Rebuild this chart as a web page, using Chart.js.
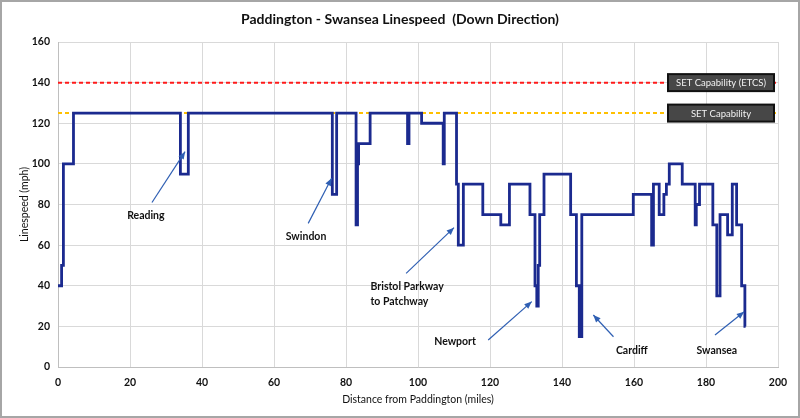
<!DOCTYPE html>
<html>
<head>
<meta charset="utf-8">
<script src="https://cdn.jsdelivr.net/npm/chart.js@4/dist/chart.umd.min.js"></script>
<style>
  html, body { margin: 0; padding: 0; background: #fff; }
  #wrap { width: 800px; height: 418px; position: relative; }
</style>
</head>
<body>
<div id="wrap"><canvas id="chart"></canvas></div>
<script>
// start of each section (miles) and its linespeed (mph)
const miles  = [0, 1, 1.5, 4.3, 34, 36.2, 76.2, 77.4, 82.8, 83.2, 83.5, 86.7, 97.1, 97.5, 101, 107, 107.3,
                110.7, 111.2, 112.6, 118, 123, 125.4, 131.1, 132.5, 133, 133.4, 133.8, 135, 142.4, 144, 144.8,
                145.5, 159.8, 164.9, 165.4, 167, 168.3, 169, 169.8, 173.4, 177, 177.3, 178.2, 181.9, 183,
                183.9, 186, 187.3, 188.5, 189.9, 190.8, 191];
const speeds = [40, 50, 100, 125, 95, 125, 85, 125, 70, 100, 110, 125, 110, 125, 120, 100, 125,
                90, 60, 90, 75, 70, 90, 75, 40, 30, 50, 75, 95, 75, 40, 15,
                75, 85, 60, 90, 75, 85, 90, 100, 90, 70, 80, 90, 70, 35,
                75, 65, 90, 70, 40, 20, 20];

const setEtcs = 140;   // SET Capability (ETCS)
const setCap = 125;    // SET Capability
const xTicks = [0, 20, 40, 60, 80, 100, 120, 140, 160, 180, 200];
const yTicks = [0, 20, 40, 60, 80, 100, 120, 140, 160];

// callouts: text, text position, arrow from -> to (miles, mph)
const callouts = [
  { text: ['Reading'], at: [24.4, 74.5], from: [26.1, 81], to: [35.3, 106] },
  { text: ['Swindon'], at: [68.9, 64.3], from: [69.5, 70.7], to: [76, 92.9] },
  { text: ['Bristol Parkway', 'to Patchway'], at: [86.8, 39.5], align: 'left', from: [96.7, 46.1], to: [110, 68.6] },
  { text: ['Newport'], at: [110.3, 12.3], from: [119.5, 13.3], to: [131.6, 32.2] },
  { text: ['Cardiff'], at: [159.4, 8.3], from: [154.3, 14.9], to: [148.7, 25.6] },
  { text: ['Swansea'], at: [183, 8.3], from: [182.5, 15.8], to: [190.6, 27.2] }
];

const FONT = 'Lato, "Open Sans", sans-serif';
const navy = '#1b2a8f';

const decor = {
  id: 'decor',
  beforeDraw(chart) {
    const c = chart.ctx;
    c.save();
    c.fillStyle = '#fff';
    c.fillRect(0, 0, chart.width, chart.height);
    c.restore();
  },
  afterDatasetsDraw(chart) {
    const c = chart.ctx, xs = chart.scales.x, ys = chart.scales.y;
    c.save();
    // capability labels
    [[setEtcs, 'SET Capability (ETCS)'], [setCap, 'SET Capability']].forEach(([v, t]) => {
      const y = ys.getPixelForValue(v);
      const x0 = 668, x1 = 774;
      c.fillStyle = '#474747';
      c.fillRect(x0, y - 8.5, x1 - x0, 17);
      c.lineWidth = 2;
      c.strokeStyle = '#111';
      c.strokeRect(x0, y - 8.5, x1 - x0, 17);
      c.fillStyle = '#f2f2f2';
      c.font = '9.5px ' + FONT;
      c.textAlign = 'center';
      c.textBaseline = 'middle';
      c.fillText(t, (x0 + x1) / 2, y + 0.5);
    });
    // callouts
    callouts.forEach(cl => {
      const fx = xs.getPixelForValue(cl.from[0]), fy = ys.getPixelForValue(cl.from[1]);
      const tx = xs.getPixelForValue(cl.to[0]), ty = ys.getPixelForValue(cl.to[1]);
      c.strokeStyle = '#2f5fb3';
      c.fillStyle = '#2f5fb3';
      c.lineWidth = 1.2;
      c.beginPath(); c.moveTo(fx, fy); c.lineTo(tx, ty); c.stroke();
      const a = Math.atan2(ty - fy, tx - fx);
      c.beginPath();
      c.moveTo(tx, ty);
      c.lineTo(tx - 8 * Math.cos(a - 0.4), ty - 8 * Math.sin(a - 0.4));
      c.lineTo(tx - 8 * Math.cos(a + 0.4), ty - 8 * Math.sin(a + 0.4));
      c.closePath(); c.fill();
      c.fillStyle = '#111';
      c.font = 'bold 10.5px ' + FONT;
      c.textAlign = cl.align || 'center';
      c.textBaseline = 'middle';
      const px = xs.getPixelForValue(cl.at[0]), py = ys.getPixelForValue(cl.at[1]);
      cl.text.forEach((line, i) => c.fillText(line, px, py + i * 15));
    });
    c.restore();
  },
  afterDraw(chart) {
    const c = chart.ctx;
    c.save();
    c.fillStyle = '#111';
    c.font = 'bold 14px ' + FONT;
    c.textAlign = 'center';
    c.textBaseline = 'middle';
    c.fillText('Paddington - Swansea Linespeed  (Down Direction)', 400, 19);
    c.strokeStyle = '#a6a6a6';
    c.lineWidth = 2;
    c.strokeRect(1, 1, chart.width - 2, chart.height - 2);
    c.restore();
  }
};

new Chart(document.getElementById('chart'), {
  type: 'line',
  data: {
    datasets: [
      {
        data: miles.map((m, i) => ({ x: m, y: speeds[i] })),
        borderColor: navy,
        borderWidth: 2.8,
        stepped: 'before',
        pointRadius: 0,
        fill: false
      },
      {
        data: [{ x: 0, y: setEtcs }, { x: 200, y: setEtcs }],
        borderColor: '#ff1a1a',
        borderWidth: 2,
        borderDash: [4, 3],
        pointRadius: 0
      },
      {
        data: [{ x: 0, y: setCap }, { x: 200, y: setCap }],
        borderColor: '#ffc000',
        borderWidth: 2,
        borderDash: [4, 3],
        pointRadius: 0
      }
    ]
  },
  options: {
    responsive: true,
    maintainAspectRatio: false,
    animation: false,
    layout: { padding: { top: 42, right: 22, left: 14, bottom: 8 } },
    plugins: {
      legend: { display: false },
      tooltip: { enabled: false },
      title: { display: false }
    },
    scales: {
      x: {
        type: 'linear',
        min: 0, max: 200,
        afterBuildTicks: s => { s.ticks = xTicks.map(v => ({ value: v })); },
        afterFit: s => { s.height = 43; },
        grid: { color: '#d9d9d9', drawTicks: false },
        border: { color: '#bfbfbf' },
        ticks: { color: '#111', font: { family: FONT, size: 10.5, weight: 'bold' }, padding: 9, maxRotation: 0 },
        title: { display: true, text: 'Distance from Paddington (miles)', color: '#111',
                 font: { family: FONT, size: 10.5 }, padding: { top: 2 } }
      },
      y: {
        min: 0, max: 160,
        afterBuildTicks: s => { s.ticks = yTicks.map(v => ({ value: v })); },
        afterFit: s => { s.width = 44; },
        grid: { color: '#d9d9d9', drawTicks: false },
        border: { color: '#bfbfbf' },
        ticks: { color: '#111', font: { family: FONT, size: 10.5, weight: 'bold' }, padding: 8 },
        title: { display: true, text: 'Linespeed (mph)', color: '#111',
                 font: { family: FONT, size: 10.5 }, padding: { bottom: 2 } }
      }
    }
  },
  plugins: [decor]
});
</script>
</body>
</html>
